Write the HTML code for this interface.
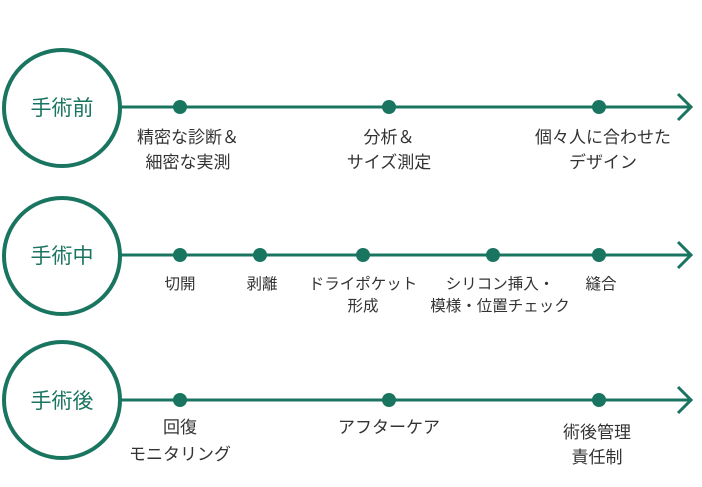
<!DOCTYPE html>
<html><head><meta charset="utf-8"><style>
body{margin:0;width:702px;height:482px;background:#fff;overflow:hidden}
svg text{font-family:"Liberation Sans","Noto Sans CJK JP",sans-serif}
.l{font-size:17px;fill:#333;text-anchor:middle}
.m{font-size:15.5px}
.c{font-size:21px;fill:#1a7560;text-anchor:middle}
</style></head><body>
<svg width="702" height="482" xmlns="http://www.w3.org/2000/svg">
<g stroke="#1a7560" fill="none">
<circle cx="62" cy="108" r="58" stroke-width="4"/>
<circle cx="62" cy="256" r="58" stroke-width="4"/>
<circle cx="62" cy="400" r="58" stroke-width="4"/>
<g stroke-width="3">
<line x1="120" y1="107" x2="691" y2="107"/><polyline points="678,94 691,107 678,120"/>
<line x1="120" y1="255" x2="691" y2="255"/><polyline points="678,242 691,255 678,268"/>
<line x1="120" y1="400" x2="691" y2="400"/><polyline points="678,387 691,400 678,413"/>
</g></g>
<g fill="#1a7560">
<circle cx="180" cy="107" r="7"/><circle cx="389" cy="107" r="7"/><circle cx="599" cy="107" r="7"/>
<circle cx="180" cy="255" r="7"/><circle cx="260" cy="255" r="7"/><circle cx="363" cy="255" r="7"/><circle cx="493" cy="255" r="7"/><circle cx="599" cy="255" r="7"/>
<circle cx="180" cy="400" r="7"/><circle cx="389" cy="400" r="7"/><circle cx="599" cy="400" r="7"/>
</g>
<text class="c" x="62" y="115">手術前</text>
<text class="c" x="62" y="263">手術中</text>
<text class="c" x="62" y="408">手術後</text>
<text class="l" x="188" y="143">精密な診断＆</text><text class="l" x="188" y="168">細密な実測</text>
<text class="l" x="389" y="143">分析＆</text><text class="l" x="389" y="168">サイズ測定</text>
<text class="l" x="603" y="143">個々人に合わせた</text><text class="l" x="603" y="168">デザイン</text>
<text class="l m" x="180" y="289">切開</text>
<text class="l m" x="262" y="289">剥離</text>
<text class="l m" x="363" y="289">ドライポケット</text><text class="l m" x="363" y="311">形成</text>
<text class="l m" x="500" y="289">シリコン挿入・</text><text class="l m" x="500" y="311">模様・位置チェック</text>
<text class="l m" x="601" y="289">縫合</text>
<text class="l" x="180" y="433">回復</text><text class="l" x="180" y="460">モニタリング</text>
<text class="l" x="389" y="433">アフターケア</text>
<text class="l" x="597" y="438">術後管理</text><text class="l" x="597" y="463">責任制</text>
</svg>
</body></html>
